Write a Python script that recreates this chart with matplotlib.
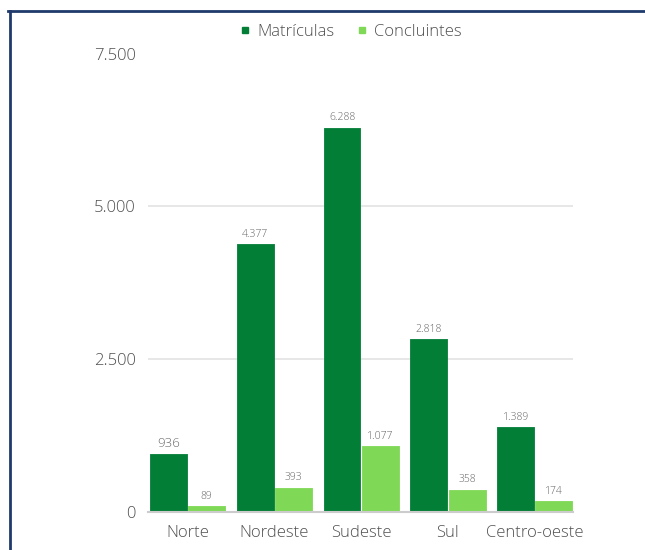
import matplotlib
matplotlib.use("Agg")
import matplotlib.pyplot as plt
import numpy as np
from matplotlib.lines import Line2D

plt.rcParams["font.family"] = ["Open Sans", "DejaVu Sans"]
plt.rcParams["font.weight"] = 300

regioes = ["Norte", "Nordeste", "Sudeste", "Sul", "Centro-oeste"]
matriculas = [936, 4377, 6288, 2818, 1389]
concluintes = [89, 393, 1077, 358, 174]
y_ticks = [0, 2500, 5000, 7500]
y_tick_labels = ["0", "2.500", "5.000", "7.500"]

cor_matriculas = "#037e37"
cor_concluintes = "#7fd957"
cor_texto = "#505050"


def fmt(v):
    return f"{v:,}".replace(",", ".")


fig = plt.figure(figsize=(6.45, 5.5), dpi=100)
ax = fig.add_axes([148 / 645, 1 - 511.5 / 550, (573 - 148) / 645, (511.5 - 53.5) / 550])

x = np.arange(len(regioes))
w = 0.425
off = w / 2 + 0.008
b1 = ax.bar(x - off, matriculas, width=w, color=cor_matriculas,
            edgecolor=cor_matriculas, linewidth=0.6, joinstyle="round", zorder=3)
b2 = ax.bar(x + off, concluintes, width=w, color=cor_concluintes,
            edgecolor=cor_concluintes, linewidth=0.6, joinstyle="round", zorder=3)

for i, (rect, v) in enumerate(zip(b1, matriculas)):
    size = 9.5 if i == 0 else 7.5
    ax.annotate(fmt(v), (rect.get_x() + rect.get_width() / 2, v),
                xytext=(0, 3), textcoords="offset points",
                ha="center", va="bottom", fontsize=size, color="#666666")
for rect, v in zip(b2, concluintes):
    ax.annotate(fmt(v), (rect.get_x() + rect.get_width() / 2, v),
                xytext=(0, 3), textcoords="offset points",
                ha="center", va="bottom", fontsize=7.5, color="#666666")

ax.set_xlim(-0.455, 4.44)
ax.set_ylim(0, 7500)
ax.set_yticks(y_ticks)
ax.set_yticklabels(y_tick_labels, fontsize=12, color=cor_texto)
ax.set_xticks(x)
ax.set_xticklabels(regioes, fontsize=12, color=cor_texto)
ax.tick_params(axis="y", length=0, pad=9)
ax.tick_params(axis="x", length=0, pad=10)

ax.yaxis.grid(True, color="#e3e3e3", linewidth=1.2, zorder=0)
ax.set_axisbelow(True)
for s in ["top", "right", "left"]:
    ax.spines[s].set_visible(False)
ax.spines["bottom"].set_color("#cccccc")
ax.spines["bottom"].set_linewidth(1.5)
ax.spines["bottom"].set_zorder(4)

handles = [
    Line2D([], [], marker="s", linestyle="none", markersize=4.5,
           markerfacecolor=cor_matriculas, markeredgecolor=cor_matriculas),
    Line2D([], [], marker="s", linestyle="none", markersize=4.5,
           markerfacecolor=cor_concluintes, markeredgecolor=cor_concluintes),
]
leg = fig.legend(handles, ["Matrículas", "Concluintes"], loc="center",
                 bbox_to_anchor=(351 / 645, 1 - 31.5 / 550), ncol=2, frameon=False,
                 fontsize=12, handlelength=0.6, handletextpad=0.4,
                 columnspacing=1.4)
for t in leg.get_texts():
    t.set_color(cor_texto)

# Frame lines along the top and left edges
borda = "#1f3a6b"
fig.add_artist(Line2D([8 / 645, 1.0], [1 - 10.5 / 550, 1 - 10.5 / 550],
                      transform=fig.transFigure, color=borda, linewidth=2))
fig.add_artist(Line2D([9.5 / 645, 9.5 / 645], [1 - 10.5 / 550, 0.0],
                      transform=fig.transFigure, color=borda, linewidth=2))

fig.savefig("out.png", dpi=100)
